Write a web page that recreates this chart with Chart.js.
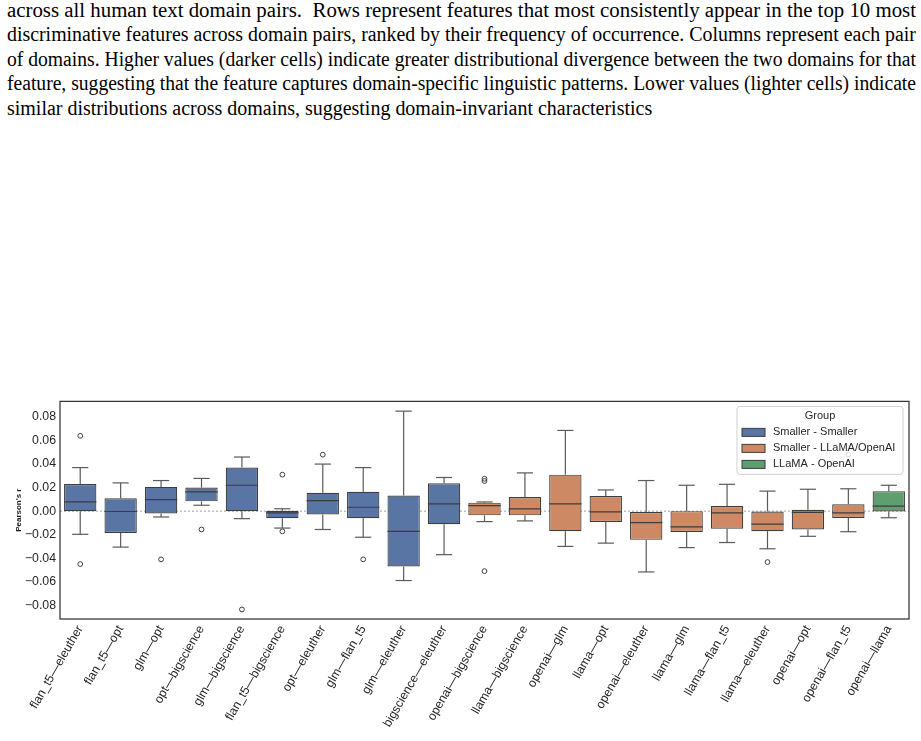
<!DOCTYPE html>
<html>
<head>
<meta charset="utf-8">
<script src="https://cdn.jsdelivr.net/npm/chart.js@4/dist/chart.umd.min.js"></script>
<style>
body{margin:0;width:921px;height:741px;overflow:hidden;background:#fff;position:relative}
#caption{position:absolute;left:7px;top:-2px;width:909px;font-family:"Liberation Serif","Times New Roman",serif;font-size:20.5px;line-height:24.4px;color:#000}
.ln{white-space:nowrap;transform-origin:0 0}
.ln span{display:inline-block}
#wrap{position:absolute;left:0;top:390px;width:921px;height:351px}
</style>
</head>
<body>
<div id="caption">
  <div class="ln"><span>across all human text domain pairs.&nbsp; Rows represent features that most consistently appear in the top 10 most</span></div>
  <div class="ln"><span>discriminative features across domain pairs, ranked by their frequency of occurrence. Columns represent each pair</span></div>
  <div class="ln"><span>of domains. Higher values (darker cells) indicate greater distributional divergence between the two domains for that</span></div>
  <div class="ln"><span>feature, suggesting that the feature captures domain-specific linguistic patterns. Lower values (lighter cells) indicate</span></div>
  <div class="ln last"><span>similar distributions across domains, suggesting domain-invariant characteristics</span></div>
</div>
<div id="wrap"><canvas id="myChart"></canvas></div>
<script>
// domain pairs (x categories)
const labels = ['flan_t5\u2014eleuther', 'flan_t5\u2014opt', 'glm\u2014opt', 'opt\u2014bigscience', 'glm\u2014bigscience',
  'flan_t5\u2014bigscience', 'opt\u2014eleuther', 'glm\u2014flan_t5', 'glm\u2014eleuther', 'bigscience\u2014eleuther',
  'openai\u2014bigscience', 'llama\u2014bigscience', 'openai\u2014glm', 'llama\u2014opt', 'openai\u2014eleuther',
  'llama\u2014glm', 'llama\u2014flan_t5', 'llama\u2014eleuther', 'openai\u2014opt', 'openai\u2014flan_t5', 'openai\u2014llama'];
const groupOf = [0,0,0,0,0,0,0,0,0,0, 1,1,1,1,1,1,1,1,1,1, 2];
const groupNames = ['Smaller - Smaller', 'Smaller - LLaMA/OpenAI', 'LLaMA - OpenAI'];
const groupColors = ['#5875a4', '#cc8963', '#5f9e6e'];

// box stats
const whiskerLow  = [-0.0197, -0.0306, -0.0050, 0.0050, -0.0064, -0.0144, -0.0156, -0.0222, -0.0590, -0.0370,
  -0.0089, -0.0083, -0.0300, -0.0272, -0.0517, -0.0310, -0.0267, -0.0320, -0.0214, -0.0175, -0.0056];
const q1          = [0.0000, -0.0186, -0.0020, 0.0083, 0.0000, -0.0060, -0.0028, -0.0061, -0.0470, -0.0111,
  -0.0036, -0.0036, -0.0170, -0.0092, -0.0244, -0.0178, -0.0150, -0.0170, -0.0156, -0.0058, -0.0003];
const median      = [0.0078, -0.0003, 0.0097, 0.0164, 0.0220, -0.0014, 0.0089, 0.0033, -0.0172, 0.0061,
  0.0047, 0.0019, 0.0061, -0.0006, -0.0097, -0.0133, -0.0014, -0.0111, -0.0011, -0.0014, 0.0042];
const q3          = [0.0230, 0.0110, 0.0206, 0.0200, 0.0370, 0.0003, 0.0156, 0.0164, 0.0133, 0.0236,
  0.0072, 0.0120, 0.0310, 0.0128, -0.0008, 0.0000, 0.0044, -0.0003, 0.0011, 0.0058, 0.0170];
const whiskerHigh = [0.0370, 0.0240, 0.0260, 0.0278, 0.0460, 0.0020, 0.0400, 0.0370, 0.0850, 0.0286,
  0.0078, 0.0325, 0.0686, 0.0180, 0.0260, 0.0220, 0.0228, 0.0170, 0.0186, 0.0190, 0.0220];
// outliers: [category index, value]
const outliers = [[0, 0.064], [0, -0.045], [2, -0.041], [3, -0.0156], [4, -0.0836], [5, 0.031], [5, -0.0172],
  [6, 0.048], [7, -0.041], [10, 0.0275], [10, 0.0256], [10, -0.051], [17, -0.0433], [19, 0.048]];
const yTicks = [-0.08, -0.06, -0.04, -0.02, 0.00, 0.02, 0.04, 0.06, 0.08];

const lineColor = '#3d3d3d';
const whiskerColor = '#5a5a5a';

let fmt = (v) => (v < -1e-9 ? '\u2212' : '') + Math.abs(v).toFixed(2);

let boxPlugin = {
  id: 'boxparts',
  beforeDatasetsDraw(chart) {
    const {ctx, chartArea, scales: {y}} = chart;
    const py = y.getPixelForValue(0);
    ctx.save();
    ctx.strokeStyle = '#a0a0a0';
    ctx.lineWidth = 1;
    ctx.setLineDash([2, 2]);
    ctx.beginPath();
    ctx.moveTo(chartArea.left, py);
    ctx.lineTo(chartArea.right, py);
    ctx.stroke();
    ctx.restore();
  },
  afterDatasetsDraw(chart) {
    const {ctx, scales: {x, y}} = chart;
    const step = x.getPixelForValue(1) - x.getPixelForValue(0);
    const bw = step * 0.8;
    const seg = (x0, y0, x1, y1) => { ctx.beginPath(); ctx.moveTo(x0, y0); ctx.lineTo(x1, y1); ctx.stroke(); };
    ctx.save();
    ctx.lineWidth = 1.2;
    labels.forEach((lab, i) => {
      const cx = x.getPixelForValue(i);
      ctx.strokeStyle = whiskerColor;
      seg(cx, y.getPixelForValue(q3[i]), cx, y.getPixelForValue(whiskerHigh[i]));
      seg(cx, y.getPixelForValue(q1[i]), cx, y.getPixelForValue(whiskerLow[i]));
      seg(cx - bw / 4, y.getPixelForValue(whiskerHigh[i]), cx + bw / 4, y.getPixelForValue(whiskerHigh[i]));
      seg(cx - bw / 4, y.getPixelForValue(whiskerLow[i]), cx + bw / 4, y.getPixelForValue(whiskerLow[i]));
      ctx.strokeStyle = lineColor;
      seg(cx - bw / 2, y.getPixelForValue(median[i]), cx + bw / 2, y.getPixelForValue(median[i]));
    });
    ctx.restore();
  },
  afterDraw(chart) {
    const {ctx, chartArea} = chart;
    ctx.save();
    // frame
    ctx.strokeStyle = '#333';
    ctx.lineWidth = 1.25;
    ctx.strokeRect(chartArea.left, chartArea.top, chartArea.right - chartArea.left, chartArea.bottom - chartArea.top);
    // legend (inside plot, upper right)
    const lx = chartArea.right - 172, ly = chartArea.top + 5, lw = 166, lh = 68;
    ctx.fillStyle = 'rgba(255,255,255,0.8)';
    ctx.strokeStyle = '#d0d0d0';
    ctx.lineWidth = 1;
    ctx.beginPath();
    ctx.roundRect(lx, ly, lw, lh, 3);
    ctx.fill();
    ctx.stroke();
    ctx.font = '11px "Liberation Sans", Arial, sans-serif';
    ctx.fillStyle = '#262626';
    ctx.textBaseline = 'middle';
    ctx.textAlign = 'center';
    ctx.fillText('Group', lx + lw / 2, ly + 10);
    ctx.textAlign = 'left';
    groupNames.forEach((name, g) => {
      const ry = ly + 26 + g * 16;
      ctx.fillStyle = groupColors[g];
      ctx.fillRect(lx + 5, ry - 4, 23, 8);
      ctx.strokeStyle = lineColor;
      ctx.strokeRect(lx + 5, ry - 4, 23, 8);
      ctx.fillStyle = '#262626';
      ctx.fillText(name, lx + 36, ry);
    });
    ctx.restore();
  }
};

let plot = () => {
  const ctx = document.getElementById('myChart');
  const datasets = groupNames.map((name, g) => ({
    type: 'bar',
    label: name,
    data: labels.map((_, i) => groupOf[i] === g ? [q1[i], q3[i]] : null),
    backgroundColor: groupColors[g],
    borderColor: lineColor,
    borderWidth: 1.2,
    borderSkipped: false,
    grouped: false,
    barPercentage: 0.8,
    categoryPercentage: 1
  }));
  datasets.push({
    type: 'scatter',
    label: 'outliers',
    data: outliers.map(([i, v]) => ({x: labels[i], y: v})),
    pointRadius: 2.4,
    pointBackgroundColor: 'rgba(255,255,255,0)',
    pointBorderColor: lineColor,
    pointBorderWidth: 1
  });
  new Chart(ctx, {
    type: 'bar',
    data: {labels: labels, datasets: datasets},
    options: {
      responsive: true,
      maintainAspectRatio: false,
      animation: false,
      layout: {padding: {top: 7, right: 12, left: 0, bottom: 0}},
      plugins: {legend: {display: false}, tooltip: {enabled: false}},
      scales: {
        x: {
          type: 'category',
          grid: {display: false, drawTicks: false},
          border: {display: false},
          ticks: {
            autoSkip: false, maxRotation: 60, minRotation: 60, padding: 4,
            color: '#262626', font: {family: '"Liberation Sans", Arial, sans-serif', size: 12.3}
          },
          afterFit: (s) => { s.height = 122; }
        },
        y: {
          min: -0.0917,
          max: 0.0933,
          grid: {display: false, drawTicks: false},
          border: {display: false},
          afterBuildTicks: (s) => { s.ticks = yTicks.map(v => ({value: v})); },
          ticks: {
            padding: 4, color: '#262626',
            font: {family: '"Liberation Sans", Arial, sans-serif', size: 12.3},
            callback: (v) => fmt(v)
          },
          title: {
            display: true, text: "Pearson's r", color: '#1a1a1a', padding: {top: 14, bottom: 0},
            font: {family: '"Liberation Sans", Arial, sans-serif', size: 8, weight: 'bold'}
          },
          afterFit: (s) => { s.width = 60; }
        }
      }
    },
    plugins: [boxPlugin]
  });
};

let fitCaption = () => {
  const lines = Array.from(document.querySelectorAll('#caption .ln'));
  const scales = [];
  lines.forEach((el) => {
    if (el.classList.contains('last')) return;
    const w = el.firstElementChild.getBoundingClientRect().width;
    const s = 909 / w;
    scales.push(s);
    el.style.transform = 'scaleX(' + s + ')';
  });
  const avg = scales.reduce((a, b) => a + b, 0) / scales.length;
  lines[lines.length - 1].style.transform = 'scaleX(' + avg + ')';
};

(function () {
  fitCaption();
  plot();
})();
</script>
</body>
</html>
